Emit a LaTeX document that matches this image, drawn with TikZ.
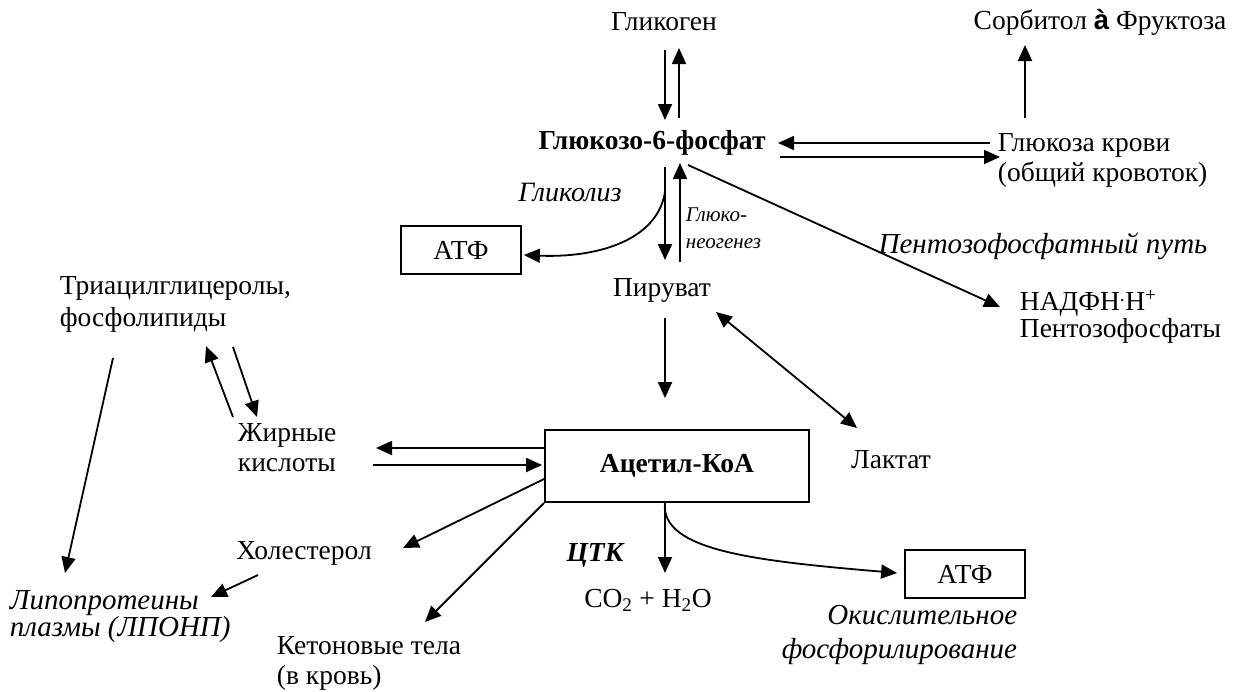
\documentclass[tikz,border=0pt]{standalone}
\usepackage{fontspec}
\setmainfont{Liberation Serif}
\newfontfamily\arrowfont{Liberation Sans}
\usetikzlibrary{arrows.meta, positioning}

\tikzset{
  arr/.style={-{Triangle[length=16pt,width=14pt]}},
  box/.style={draw, line width=1.8pt, minimum width=120pt, minimum height=48pt},
  note/.style={font=\itshape\fontsize{29}{34}\selectfont},
}

\begin{document}
\fontsize{27.5}{30}\selectfont
\begin{tikzpicture}[x=1pt, y=-1pt, line width=1.8pt, every node/.style={inner sep=0pt}]
  \useasboundingbox (0,0) rectangle (1233,691);

  \node (glycogen) at (664,22) {Гликоген};
  \node (sorb) at (1100,22) {Сорбитол {\arrowfont\bfseries à} Фруктоза};
  \node[font=\bfseries] (g6p) at (652,143) {Глюкозо-6-фосфат};
  \node[align=left, anchor=west] (blood) at (997,160) {Глюкоза крови\\(общий кровоток)};
  \node[box] (atp1) at (461,250) {АТФ};
  \node[note, font=\itshape\fontsize{28}{30}\selectfont] (glyc) at (570,192) {Гликолиз};
  \node[note, font=\itshape\fontsize{21}{27}\selectfont, align=left, anchor=west] (gng) at (685,228) {Глюко-\\неогенез};
  \node[note] (ppp) at (1043,246) {Пентозофосфатный путь};
  \node[align=left, anchor=west, font=\fontsize{27.5}{27}\selectfont] (nadph) at (1019,317) {НАДФН\textsuperscript{.}Н\textsuperscript{+}\\Пентозофосфаты};
  \node (pyr) at (662,290) {Пируват};
  \node (lact) at (891,460) {Лактат};
  \node[box, minimum width=264pt, minimum height=72pt, font=\bfseries] (acoa) at (677,466) {Ацетил-КоА};
  \node[align=left, anchor=west] (fa) at (237,448) {Жирные\\кислоты};
  \node[align=left, anchor=west, font=\fontsize{27.5}{32}\selectfont] (tag) at (59,304) {Триацилглицеролы,\\фосфолипиды};
  \node[note, font=\itshape\fontsize{29}{27}\selectfont, align=left, anchor=west] (lipo) at (9,617) {Липопротеины\\плазмы (ЛПОНП)};
  \node (chol) at (304,553) {Холестерол};
  \node[align=left, anchor=west] (keto) at (276,663) {Кетоновые тела\\(в кровь)};
  \node[font=\bfseries\itshape] (tca) at (595,555) {ЦТК};
  \node (co2) at (648,600) {CO\textsubscript{2} + H\textsubscript{2}O};
  \node[box] (atp2) at (965,574) {АТФ};
  \node[note, align=right, anchor=east] (oxph) at (1018,635) {Окислительное\\фосфорилирование};

  \path[arr]
    ([shift={(1,28)}]glycogen.center) edge ([shift={(13,-23)}]g6p.center)
    ([shift={(27,-25)}]g6p.center) edge ([shift={(15,26)}]glycogen.center)
    ([shift={(28,-42)}]blood.west) edge ([shift={(-75,23)}]sorb.center)
    ([shift={(-7,-17)}]blood.west) edge ([shift={(126,0)}]g6p.center)
    ([shift={(128,14)}]g6p.center) edge ([shift={(3,-3)}]blood.west)
    ([shift={(13,24)}]g6p.center) edge ([shift={(3,-30)}]pyr.center)
    ([shift={(18,-28)}]pyr.center) edge ([shift={(28,20)}]g6p.center)
    ([shift={(36,22)}]g6p.center) edge ([shift={(-19,-10)}]nadph.west)
    ([shift={(3,28)}]pyr.center) edge ([shift={(-12,-31)}]acoa.north)
    ([shift={(0,-18)}]acoa.west) edge ([shift={(139,0)}]fa.west)
    ([shift={(136,17)}]fa.west) edge ([shift={(-2,-1)}]acoa.west)
    ([shift={(-4,-31)}]fa.west) edge ([shift={(147,42)}]tag.west)
    ([shift={(174,43)}]tag.west) edge ([shift={(20,-31)}]fa.west)
    ([shift={(54,54)}]tag.west) edge ([shift={(56,-44)}]lipo.west)
    ([shift={(-46,22)}]chol.center) edge ([shift={(202,-20)}]lipo.west)
    ([shift={(0,13)}]acoa.west) edge ([shift={(99,-5)}]chol.center)
    (acoa.south west) edge ([shift={(149,-41)}]keto.west)
    ([shift={(-12,0)}]acoa.south) edge ([shift={(17,-27)}]co2.center);

  \draw[{Triangle[length=16pt,width=14pt]}-{Triangle[length=16pt,width=14pt]}]
    ([shift={(54,22)}]pyr.center) -- ([shift={(-34,-32)}]lact.center);

  \draw[arr] ([shift={(13,49)}]g6p.center) .. controls +(-8,50) and +(70,3) .. ([shift={(2,5)}]atp1.east);
  \draw[arr] ([shift={(-12,0)}]acoa.south) .. controls +(-5,48) and +(-140,-12) .. ([shift={(-7,-1)}]atp2.west);
\end{tikzpicture}
\end{document}
